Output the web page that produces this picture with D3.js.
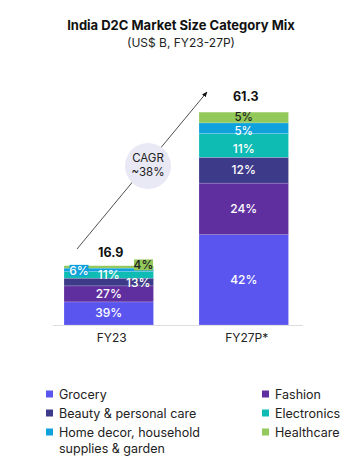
<!DOCTYPE html>
<html>
<head>
  <script src="https://d3js.org/d3.v7.min.js"></script>
  <style>
    body { margin: 0; background: #fff; }
    text { font-family: Inter, "Open Sans", sans-serif; }
  </style>
</head>
<body>
  <script>
    // Data
    const years = ["FY23", "FY27P*"];
    const totals = [16.9, 61.3];
    const categories = ["Grocery", "Fashion", "Beauty & personal care", "Electronics",
                        "Home decor, household supplies & garden", "Healthcare"];
    const sharesFY23 = [39, 27, 13, 11, 6, 4];
    const sharesFY27 = [42, 24, 12, 11, 5, 5];
    const cagrLabel = ["CAGR", "~38%"];

    const colors = ["#5a55ef", "#5f2f9f", "#3e3a8a", "#0fbcb4", "#0ea1dc", "#93c85b"];

    const W = 362, H = 465;
    const svg = d3.select("body").append("svg")
      .attr("width", W).attr("height", H);

    // Title
    svg.append("text").attr("x", 181).attr("y", 30).attr("text-anchor", "middle")
      .attr("font-size", 13).attr("font-weight", 700).attr("fill", "#111")
      .text("India D2C Market Size Category Mix");
    svg.append("text").attr("x", 181).attr("y", 47).attr("text-anchor", "middle")
      .attr("font-size", 12).attr("fill", "#222")
      .text("(US$ B, FY23-27P)");

    // Scales
    const x = d3.scaleBand().domain(years).range([64, 288.5]).paddingInner(0.337).paddingOuter(0);
    const y = d3.scaleLinear().domain([0, d3.max(totals)]).range([325, 110]);

    // Baseline
    svg.append("line").attr("x1", 53).attr("x2", 303).attr("y1", 325.5).attr("y2", 325.5)
      .attr("stroke", "#dddddd").attr("stroke-width", 1);

    // Stack segments
    const shares = [sharesFY23, sharesFY27];
    const stacks = years.map((yr, i) => {
      let acc = 0;
      return shares[i].map((s, k) => {
        const v = totals[i] * s / 100;
        const seg = { year: yr, k: k, share: s, y0: acc, y1: acc + v };
        acc += v;
        return seg;
      });
    });

    stacks.forEach(stack => {
      svg.append("g").selectAll("rect").data(stack).join("rect")
        .attr("x", d => x(d.year))
        .attr("width", x.bandwidth())
        .attr("y", d => y(d.y1))
        .attr("height", d => y(d.y0) - y(d.y1))
        .attr("fill", d => colors[d.k])
        .attr("stroke", "rgba(255,255,255,0.35)")
        .attr("stroke-width", 0.5);
    });

    // Totals
    years.forEach((yr, i) => {
      svg.append("text").attr("x", x(yr) + x.bandwidth() / 2 + 2).attr("y", y(totals[i]) - 9)
        .attr("text-anchor", "middle").attr("font-size", 12.5).attr("font-weight", 700)
        .attr("fill", "#111").text(totals[i]);
    });

    // Category labels under bars
    years.forEach(yr => {
      svg.append("text").attr("x", x(yr) + x.bandwidth() / 2 + 3).attr("y", 342)
        .attr("text-anchor", "middle").attr("font-size", 12).attr("fill", "#222").text(yr);
    });

    // Segment labels, FY27P*
    const big = stacks[1];
    const bx = x(years[1]) + x.bandwidth() / 2;
    const bigOffsets = [4, 4, 4, 8, 7, 3.5];
    big.forEach((d, k) => {
      const mid = (y(d.y0) + y(d.y1)) / 2;
      svg.append("text").attr("x", bx).attr("y", mid + bigOffsets[k])
        .attr("text-anchor", "middle").attr("font-size", k >= 4 ? 11.5 : 12).attr("font-weight", 500)
        .attr("fill", k === 5 ? "#222" : "#fff").text(d.share + "%");
    });

    // Segment labels, FY23 (small, some boxed)
    const sm = stacks[0];
    const sx0 = x(years[0]), sw = x.bandwidth();
    const mid = d => (y(d.y0) + y(d.y1)) / 2;
    [[0, sx0 + sw / 2, 4], [1, sx0 + sw / 2, 4], [2, sx0 + sw * 0.83, 5], [3, sx0 + sw / 2, 4.5]]
      .forEach(([k, lx, dy]) => {
        svg.append("text").attr("x", lx).attr("y", mid(sm[k]) + dy)
          .attr("text-anchor", "middle").attr("font-size", 12).attr("font-weight", 500)
          .attr("fill", "#fff").text(sm[k].share + "%");
      });
    // boxed labels: home decor (left) and healthcare (right)
    const boxes = [
      { k: 4, cx: sx0 + 15, cy: mid(sm[4]) + 0.5, fill: colors[4], text: "#fff" },
      { k: 5, cx: sx0 + sw - 10, cy: mid(sm[5]) - 2, fill: colors[5], text: "#222" }
    ];
    boxes.forEach(b => {
      svg.append("rect").attr("x", b.cx - 9.5).attr("y", b.cy - 5.5)
        .attr("width", 19).attr("height", 11).attr("fill", b.fill);
      svg.append("text").attr("x", b.cx).attr("y", b.cy + 4.5)
        .attr("text-anchor", "middle").attr("font-size", 12).attr("font-weight", 500)
        .attr("fill", b.text).text(sm[b.k].share + "%");
    });

    // CAGR arrow
    svg.append("defs").append("marker").attr("id", "arr")
      .attr("viewBox", "0 0 10 10").attr("refX", 9).attr("refY", 5)
      .attr("markerWidth", 7).attr("markerHeight", 7).attr("orient", "auto")
      .append("path").attr("d", "M0,1 L10,5 L0,9 Z").attr("fill", "#111");
    svg.append("line").attr("x1", 77).attr("y1", 249).attr("x2", 207).attr("y2", 92)
      .attr("stroke", "#222").attr("stroke-width", 0.8).attr("marker-end", "url(#arr)");
    svg.append("circle").attr("cx", 148).attr("cy", 166).attr("r", 23).attr("fill", "#e9e8f5");
    cagrLabel.forEach((t, i) => {
      svg.append("text").attr("x", 148).attr("y", 162 + i * 14).attr("text-anchor", "middle")
        .attr("font-size", 11.5).attr("fill", "#222").text(t);
    });

    // Legend
    const legendItems = [
      { k: 0, x: 46, y: 394, lines: ["Grocery"] },
      { k: 1, x: 262, y: 394, lines: ["Fashion"] },
      { k: 2, x: 46, y: 413, lines: ["Beauty & personal care"] },
      { k: 3, x: 262, y: 413, lines: ["Electronics"] },
      { k: 4, x: 46, y: 432, lines: ["Home decor, household", "supplies & garden"] },
      { k: 5, x: 262, y: 432, lines: ["Healthcare"] }
    ];
    legendItems.forEach(it => {
      svg.append("rect").attr("x", it.x).attr("y", it.y - 3.5).attr("width", 7).attr("height", 7)
        .attr("fill", colors[it.k]);
      it.lines.forEach((ln, j) => {
        svg.append("text").attr("x", it.x + 13).attr("y", it.y + 4.5 + j * 16)
          .attr("font-size", 12.5).attr("fill", "#222").text(ln);
      });
    });
  </script>
</body>
</html>
